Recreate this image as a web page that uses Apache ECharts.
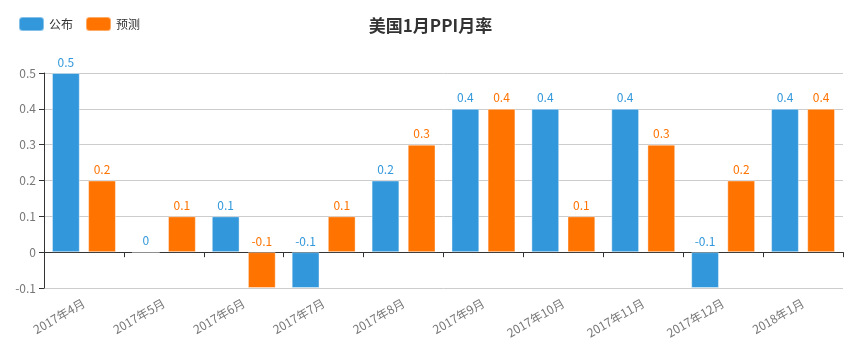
<!DOCTYPE html>
<html><head><meta charset="utf-8">
<script src="https://cdn.jsdelivr.net/npm/echarts@6/dist/echarts.min.js"></script>
<style>html,body{margin:0;padding:0;background:#fff}#c{width:861px;height:353px}</style>
</head><body><div id="c"></div>
<script>
const categories = ['2017年4月','2017年5月','2017年6月','2017年7月','2017年8月','2017年9月','2017年10月','2017年11月','2017年12月','2018年1月'];
const published = [0.5, 0, 0.1, -0.1, 0.2, 0.4, 0.4, 0.4, -0.1, 0.4];
const forecast = [0.2, 0.1, -0.1, 0.1, 0.3, 0.4, 0.1, 0.3, 0.2, 0.4];
const yTicks = { min: -0.1, max: 0.5, interval: 0.1 };
const font = '"Noto Sans CJK SC", "Microsoft YaHei", sans-serif';
const chart = echarts.init(document.getElementById('c'));
chart.setOption({
  animation: false,
  textStyle: { fontFamily: font },
  title: { text: '美国1月PPI月率', left: 'center', top: 12, textStyle: { fontSize: 17, fontWeight: 'bold', color: '#333', fontFamily: font } },
  legend: { left: 13, top: 11, itemWidth: 25, itemHeight: 14, itemGap: 12, textStyle: { fontSize: 12, color: '#333' }, data: ['公布','预测'] },
  grid: { left: 44, right: 18, top: 73, bottom: 65, containLabel: false, outerBoundsMode: 'none' },
  xAxis: {
    type: 'category', data: categories,
    axisLine: { onZero: true, lineStyle: { color: '#333' } },
    axisTick: { show: true, alignWithLabel: false, lineStyle: { color: '#333' } },
    axisLabel: { rotate: 30, margin: 14, color: '#777', fontSize: 12 }
  },
  yAxis: {
    type: 'value', min: yTicks.min, max: yTicks.max, interval: yTicks.interval,
    axisLine: { show: true, lineStyle: { color: '#333' } },
    axisTick: { show: true, lineStyle: { color: '#333' } },
    axisLabel: { color: '#777', fontSize: 12, formatter: v => String(Math.round(v*10)/10) },
    splitLine: { lineStyle: { color: '#ccc' } }
  },
  series: [
    { name: '公布', type: 'bar', data: published, barGap: '30%', barCategoryGap: '20%',
      itemStyle: { color: '#3398DB', borderColor: 'rgba(255,255,255,0.4)', borderWidth: 1 },
      label: { show: true, position: 'top', color: '#3398DB', fontSize: 12 } },
    { name: '预测', type: 'bar', data: forecast,
      itemStyle: { color: '#FF7300', borderColor: 'rgba(255,255,255,0.4)', borderWidth: 1 },
      label: { show: true, position: 'top', color: '#FF7300', fontSize: 12 } }
  ]
});
</script></body></html>
